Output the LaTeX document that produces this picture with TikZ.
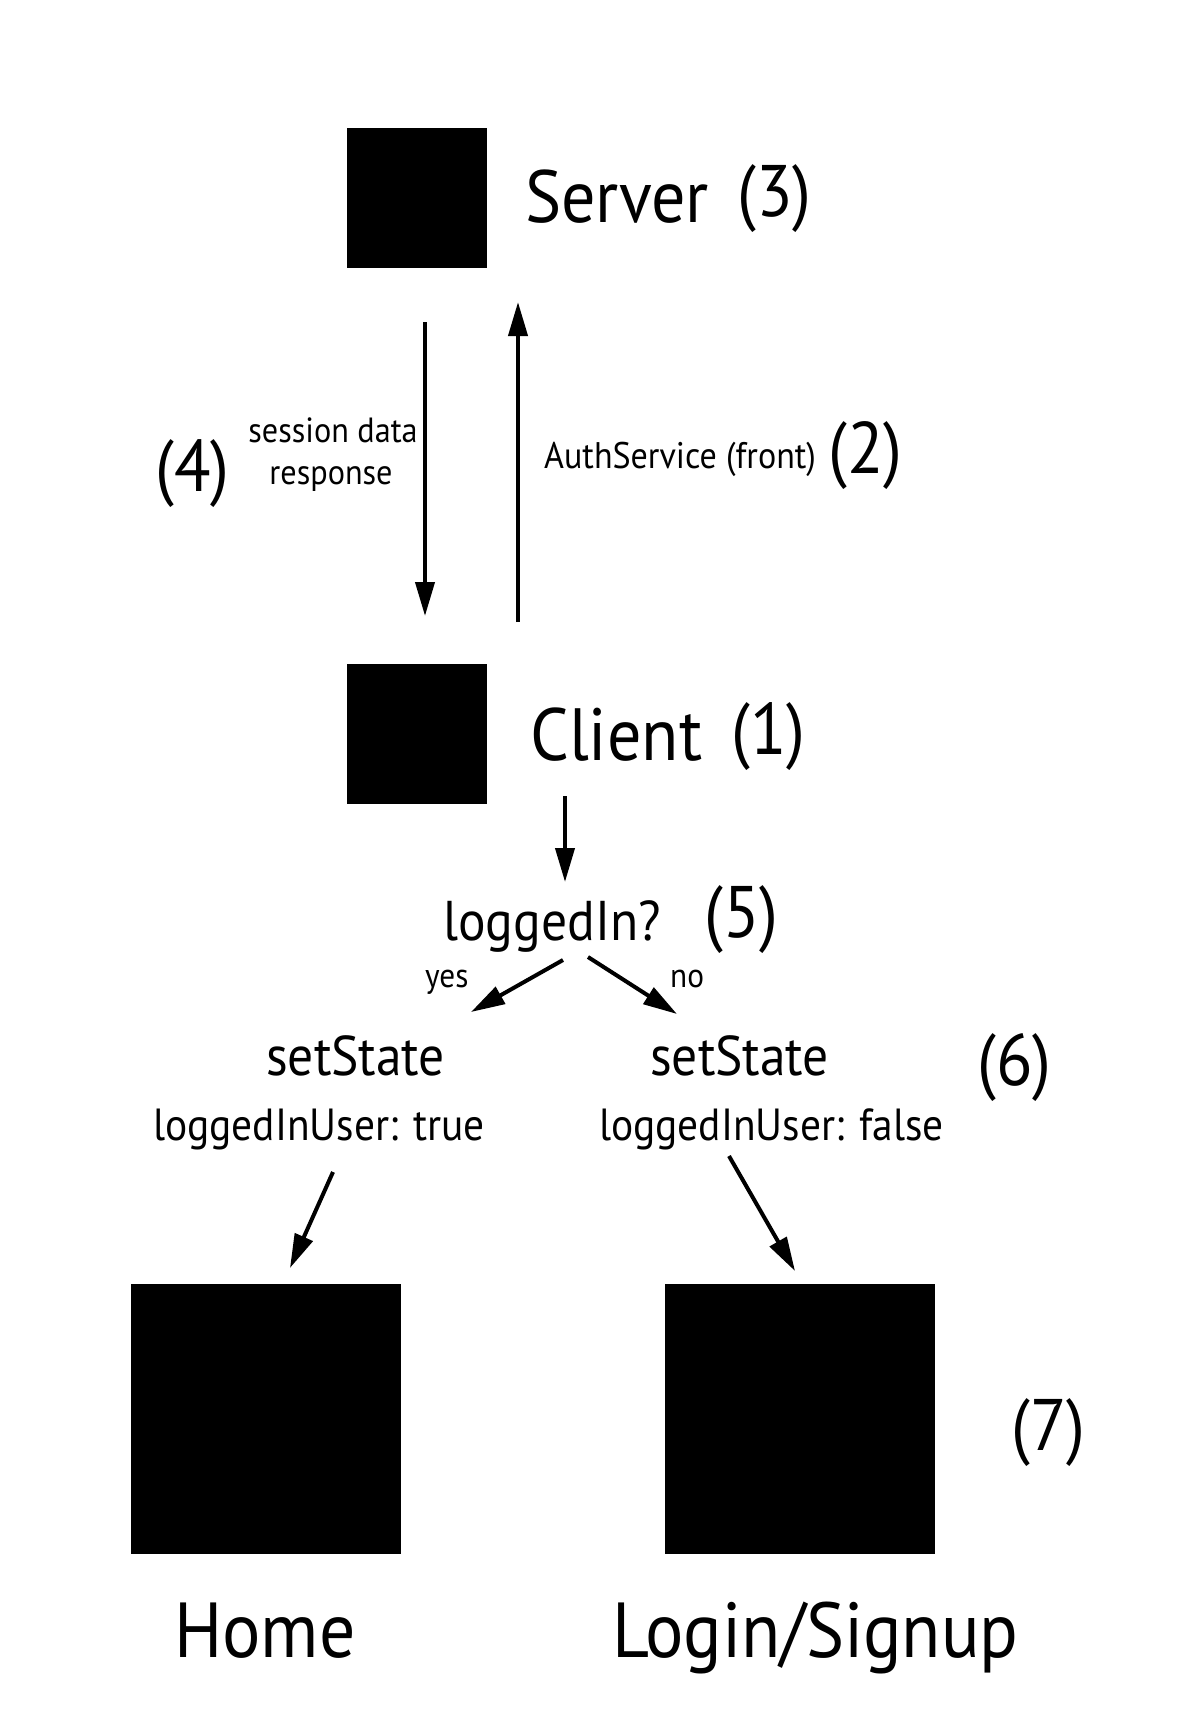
\documentclass[tikz,border=0pt]{standalone}
\usepackage{fontspec}
\setmainfont{PT Sans}[FakeStretch=0.92]
\usetikzlibrary{arrows.meta}

\newcommand\tbig{\fontsize{74}{80}\selectfont}
\newcommand\tfoot{\fontsize{78}{84}\selectfont}
\newcommand\tnum{\fontsize{73}{78}\selectfont}
\newcommand\tmid{\fontsize{56}{60}\selectfont}
\newcommand\tval{\fontsize{45}{50}\selectfont}
\newcommand\tsmall{\fontsize{35}{40}\selectfont}
\newcommand\tauth{\fontsize{37}{40}\selectfont}
\newcommand\tyes{\fontsize{34}{38}\selectfont}

\begin{document}
\begin{tikzpicture}[x=1pt,y=-1pt,
  blk/.style={fill=black,inner sep=0pt,minimum size=#1},
  arr/.style={line width=4pt,-{Triangle[length=34pt,width=19pt]}},
  txt/.style={inner sep=0pt,anchor=base west}]
 \useasboundingbox (0,0) rectangle (1200,1711);

 % boxes
 \node[blk=140pt] (server) at (417,197.5) {};
 \node[blk=140pt] (client) at (417,734) {};
 \node[blk=270pt] (homebox) at (266,1418.5) {};
 \node[blk=270pt] (loginbox) at (800,1418.5) {};

 \node[txt,font=\tbig] (srv) at (525,222) {Server};
 \node[txt,font=\tnum] (n3) at (737,216) {(3)};
 \node[txt,font=\tbig] (cli) at (530,760) {Client};
 \node[txt,font=\tnum] (n1) at (731,754) {(1)};

 % server <-> client
 \coordinate (a4s) at (425,322);
 \coordinate (a4e) at (425,616);
 \coordinate (a2s) at (518,622);
 \coordinate (a2e) at (518,302);
 \draw[arr] (a4s) -- (a4e);
 \draw[arr] (a2s) -- (a2e);
 \node[txt,font=\tnum] (n4) at (155,491) {(4)};
 \node[inner sep=0pt,anchor=base,font=\tsmall] (sess1) at (333,442) {session data};
 \node[inner sep=0pt,anchor=base,font=\tsmall] (sess2) at (331,484) {response};
 \node[txt,font=\tauth] (auth) at (544,468) {AuthService (front)};
 \node[txt,font=\tnum] (n2) at (828,473) {(2)};

 % decision
 \coordinate (a5s) at (565,796);
 \coordinate (a5e) at (565,882);
 \draw[arr] (a5s) -- (a5e);
 \node[txt,font=\tmid] (logq) at (443,940) {loggedIn?};
 \node[txt,font=\tnum] (n5) at (704,937) {(5)};
 \coordinate (ys) at (563,960);
 \coordinate (ye) at (471,1012);
 \coordinate (ns) at (588,957);
 \coordinate (ne) at (677,1014);
 \draw[arr] (ys) -- (ye);
 \draw[arr] (ns) -- (ne);
 \node[txt,font=\tyes] (yes) at (425,987) {yes};
 \node[txt,font=\tyes] (no) at (670,987) {no};

 % setState
 \node[txt,font=\tmid] (st1) at (266,1075) {setState};
 \node[txt,font=\tmid] (st2) at (650,1075) {setState};
 \node[txt,font=\tval] (val1) at (153,1140) {loggedInUser: true};
 \node[txt,font=\tval] (val2) at (599,1140) {loggedInUser: false};
 \node[txt,font=\tnum] (n6) at (977,1085) {(6)};

 \coordinate (hs) at (333,1172);
 \coordinate (he) at (290,1268);
 \coordinate (ls) at (729,1156);
 \coordinate (le) at (795,1271);
 \draw[arr] (hs) -- (he);
 \draw[arr] (ls) -- (le);

 \node[txt,font=\tnum] (n7) at (1011,1450) {(7)};
 \node[txt,font=\tfoot] (home) at (174,1657) {Home};
 \node[txt,font=\tfoot] (login) at (612,1657) {Login/Signup};
\end{tikzpicture}
\end{document}
